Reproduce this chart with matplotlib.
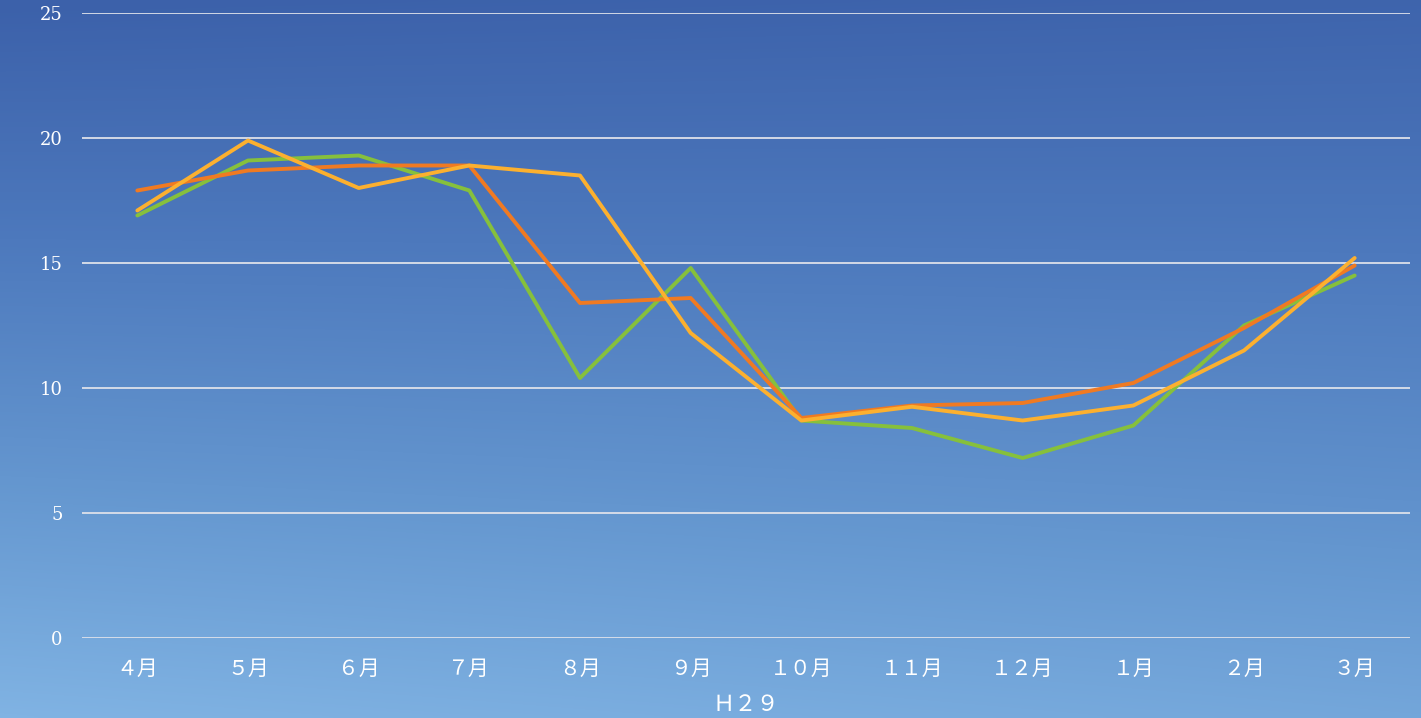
import numpy as np
import matplotlib
matplotlib.use("Agg")
import matplotlib.pyplot as plt
from matplotlib.colors import LinearSegmentedColormap

months = ["４月", "５月", "６月", "７月", "８月", "９月",
          "１０月", "１１月", "１２月", "１月", "２月", "３月"]
series_green = [16.9, 19.1, 19.3, 17.9, 10.4, 14.8, 8.7, 8.4, 7.2, 8.5, 12.5, 14.5]
series_orange = [17.9, 18.7, 18.9, 18.9, 13.4, 13.6, 8.8, 9.3, 9.4, 10.2, 12.4, 14.9]
series_yellow = [17.1, 19.9, 18.0, 18.9, 18.5, 12.2, 8.7, 9.25, 8.7, 9.3, 11.5, 15.2]
y_ticks = [0, 5, 10, 15, 20, 25]
x_title = "Ｈ２９"

W, H = 1421, 718
fig = plt.figure(figsize=(W / 100, H / 100), dpi=100)

# sky-blue gradient background
bg = fig.add_axes([0, 0, 1, 1], zorder=0)
bg.set_axis_off()
ny, nx = 200, 200
yy, xx = np.mgrid[0:1:ny * 1j, 0:1:nx * 1j]
t = np.clip(0.85 * yy + 0.15 * (1 - xx) * yy + 0.05 * xx * (1 - yy), 0, 1)
cmap = LinearSegmentedColormap.from_list(
    "sky", ["#3c61aa", "#4d79bd", "#6496cf", "#80b3e3"])
bg.imshow(t, cmap=cmap, vmin=0, vmax=1, aspect="auto",
          extent=[0, 1, 1, 0], interpolation="bicubic")
bg.set_xlim(0, 1)
bg.set_ylim(1, 0)

left, right = 82 / W, 1410 / W
bottom, top = (H - 638) / H, (H - 13) / H
ax = fig.add_axes([left, bottom, right - left, top - bottom], zorder=1)
ax.set_facecolor("none")

x = np.arange(len(months))
ax.plot(x, series_green, color="#86c03c", lw=2.8, solid_capstyle="round", zorder=3)
ax.plot(x, series_orange, color="#f07a22", lw=2.8, solid_capstyle="round", zorder=4)
ax.plot(x, series_yellow, color="#fcb02f", lw=2.8, solid_capstyle="round", zorder=5)

ax.set_xlim(-0.5, len(months) - 0.5)
ax.set_ylim(0, 25)
ax.yaxis.grid(True, color="#dde1ea", lw=1.3)
ax.set_axisbelow(True)
for s in ax.spines.values():
    s.set_visible(False)
ax.tick_params(axis="both", length=0)
ax.tick_params(axis="y", pad=14)
ax.tick_params(axis="x", pad=14)

ax.set_yticks(y_ticks)
ax.set_yticklabels([str(v) for v in y_ticks], color="white",
                   fontsize=13, family=["DejaVu Serif"])
ax.set_xticks(x)
ax.set_xticklabels(months, color="white", fontsize=15,
                   family=["Noto Sans CJK JP", "DejaVu Sans"])
ax.set_xlabel(x_title, color="white", fontsize=16,
              family=["Noto Sans CJK JP", "DejaVu Sans"], labelpad=10)

fig.savefig("out.png", dpi=100)
